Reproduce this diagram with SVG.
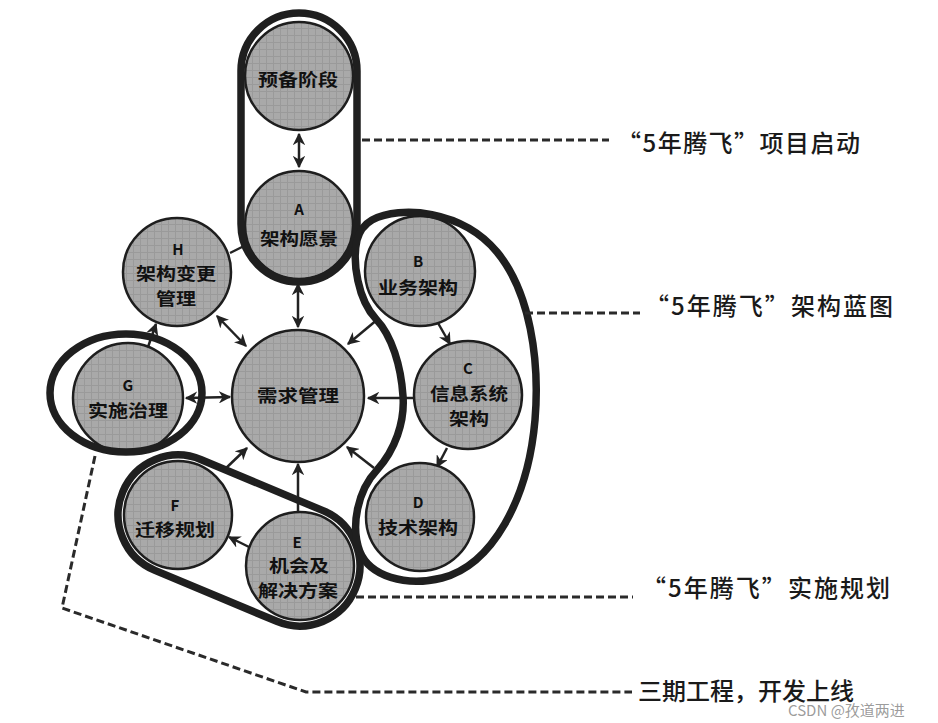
<svg xmlns="http://www.w3.org/2000/svg" width="938" height="723" viewBox="0 0 938 723">
<defs>
<pattern id="tex" width="7" height="7" patternUnits="userSpaceOnUse">
<rect width="7" height="7" fill="#a9a9a9"/>
<path d="M0 0.5H7M0.5 0V7" stroke="#9a9a9a" stroke-width="1"/>
</pattern>
<marker id="ah" viewBox="0 0 10 10" refX="9" refY="5" markerWidth="5" markerHeight="5" orient="auto-start-reverse" markerUnits="strokeWidth">
<path d="M0 0L10 5L0 10L3 5Z" fill="#222"/>
</marker>
</defs>
<style>
.node circle{fill:url(#tex);stroke:#1e1e1e;stroke-width:2.5}
.nt{font-family:"Noto Sans CJK SC","Liberation Sans",sans-serif;font-weight:700;font-size:17px;fill:#111;text-anchor:middle}
.lt{font-size:15px}
.ring{fill:none;stroke:#1f1f1f;stroke-width:7.5}
.conn line{stroke:#222;stroke-width:2.5;fill:none}
.dash{fill:none;stroke:#2a2a2a;stroke-width:3;stroke-dasharray:8 4}
.lab{font-family:"Noto Sans CJK SC","Liberation Sans",sans-serif;font-weight:500;font-size:24px;fill:#1a1a1a}
.wm{font-family:"Noto Sans CJK SC","Liberation Sans",sans-serif;font-size:15px;fill:#8a8a8a;fill-opacity:0.85}
</style>
<rect width="938" height="723" fill="#ffffff"/>

<g id="connectors" class="conn">
<line x1="299" y1="134" x2="299" y2="167" marker-start="url(#ah)" marker-end="url(#ah)"/>
<line x1="298" y1="284" x2="298" y2="327" marker-start="url(#ah)" marker-end="url(#ah)"/>
<line x1="217" y1="316" x2="246" y2="346" marker-start="url(#ah)" marker-end="url(#ah)"/>
<line x1="186" y1="398" x2="230" y2="397" marker-start="url(#ah)" marker-end="url(#ah)"/>
<line x1="378" y1="319" x2="348" y2="344" marker-end="url(#ah)"/>
<line x1="438" y1="323" x2="450" y2="344" marker-end="url(#ah)"/>
<line x1="413" y1="398" x2="368" y2="398" marker-end="url(#ah)"/>
<line x1="447" y1="448" x2="437" y2="467" marker-end="url(#ah)"/>
<line x1="374" y1="468" x2="347" y2="447" marker-end="url(#ah)"/>
<line x1="298" y1="512" x2="298" y2="464" marker-end="url(#ah)"/>
<line x1="223" y1="471" x2="247" y2="448" marker-end="url(#ah)"/>
<line x1="249" y1="547" x2="229" y2="537" marker-end="url(#ah)"/>
<line x1="230" y1="253" x2="244" y2="246"/>
<line x1="148" y1="347" x2="156" y2="324" marker-end="url(#ah)"/>
</g>

<g id="node-prep" class="node"><circle cx="299" cy="76" r="54"/><text class="nt" x="298" y="86" textLength="80" lengthAdjust="spacingAndGlyphs">预备阶段</text></g>
<g id="node-A" class="node"><circle cx="299" cy="225" r="54"/><text class="nt"><tspan class="lt" x="299" y="215">A</tspan><tspan x="299" y="245" textLength="78" lengthAdjust="spacingAndGlyphs">架构愿景</tspan></text></g>
<g id="node-H" class="node"><circle cx="177" cy="272" r="54"/><text class="nt"><tspan class="lt" x="178" y="255">H</tspan><tspan x="176" y="280" textLength="80" lengthAdjust="spacingAndGlyphs">架构变更</tspan><tspan x="176" y="305" textLength="40" lengthAdjust="spacingAndGlyphs">管理</tspan></text></g>
<g id="node-req" class="node"><circle cx="298" cy="396" r="66"/><text class="nt" x="298" y="402" textLength="82" lengthAdjust="spacingAndGlyphs">需求管理</text></g>
<g id="node-G" class="node"><circle cx="128" cy="398" r="55"/><text class="nt"><tspan class="lt" x="128" y="391">G</tspan><tspan x="128" y="417" textLength="80" lengthAdjust="spacingAndGlyphs">实施治理</tspan></text></g>
<g id="node-B" class="node"><circle cx="420" cy="271" r="55"/><text class="nt"><tspan class="lt" x="418" y="267">B</tspan><tspan x="418" y="294" textLength="80" lengthAdjust="spacingAndGlyphs">业务架构</tspan></text></g>
<g id="node-C" class="node"><circle cx="468" cy="395" r="54"/><text class="nt"><tspan class="lt" x="468" y="374">C</tspan><tspan x="469" y="400" textLength="78" lengthAdjust="spacingAndGlyphs">信息系统</tspan><tspan x="469" y="425" textLength="40" lengthAdjust="spacingAndGlyphs">架构</tspan></text></g>
<g id="node-D" class="node"><circle cx="420" cy="517" r="54"/><text class="nt"><tspan class="lt" x="418" y="508">D</tspan><tspan x="418" y="534" textLength="80" lengthAdjust="spacingAndGlyphs">技术架构</tspan></text></g>
<g id="node-F" class="node"><circle cx="178" cy="515" r="54"/><text class="nt"><tspan class="lt" x="175" y="511">F</tspan><tspan x="175" y="536" textLength="80" lengthAdjust="spacingAndGlyphs">迁移规划</tspan></text></g>
<g id="node-E" class="node"><circle cx="300" cy="566" r="54"/><text class="nt"><tspan class="lt" x="297" y="548">E</tspan><tspan x="299" y="572" textLength="60" lengthAdjust="spacingAndGlyphs">机会及</tspan><tspan x="298" y="597" textLength="80" lengthAdjust="spacingAndGlyphs">解决方案</tspan></text></g>

<g id="groups">
<rect class="ring" x="241" y="13" width="116" height="269" rx="58"/>
<ellipse class="ring" cx="126" cy="393" rx="76" ry="59"/>
<rect class="ring" x="-126" y="-60" width="252" height="120" rx="60" transform="translate(239 540.5) rotate(22.7)"/>
<path class="ring" d="M372 220 C400 205 462 210 497 252 C530 292 540 360 535 420 C528 500 492 565 442 578 C405 587 370 576 360 552 C350 526 358 490 377 470 C395 450 405 422 403 396 C401 366 392 336 376 319 C358 300 352 262 357 240 C360 229 365 224 372 220 Z"/>
</g>

<g id="callouts">
<path class="dash" d="M362 140H609"/>
<path class="dash" d="M525 313H640"/>
<path class="dash" d="M356 597H633"/>
<path class="dash" d="M95 456L62 608L306 692H632"/>
<text class="lab" x="617" y="152" textLength="243">“5年腾飞”项目启动</text>
<text class="lab" x="645" y="315" textLength="248">“5年腾飞”架构蓝图</text>
<text class="lab" x="642" y="597" textLength="248">“5年腾飞”实施规划</text>
<text class="lab" x="638" y="700" font-size="26" font-weight="700">三期工程，开发上线</text>
<text class="wm" x="788" y="716">CSDN @孜道两进</text>
</g>
</svg>
